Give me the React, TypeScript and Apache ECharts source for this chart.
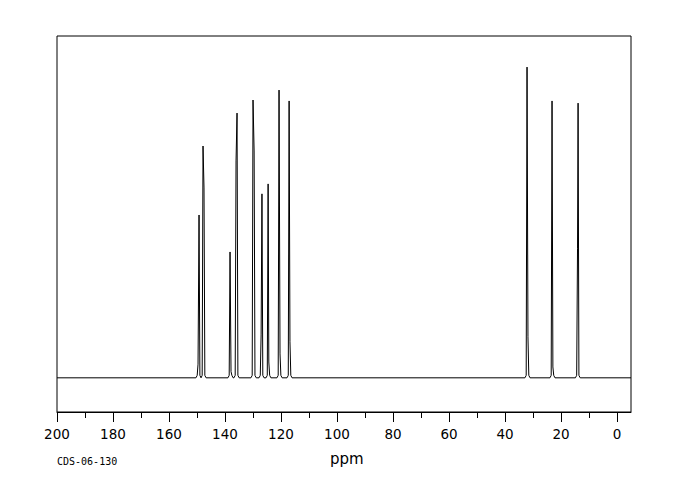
import React, { useEffect, useRef } from "react";
import * as echarts from "echarts";

// 13C peak list (ppm) and relative intensities (tallest = 100)
const shifts = [149.63, 149.27, 147.85, 147.5, 138.2, 137.85, 136.06, 135.7, 129.99, 129.6, 127.1, 126.8, 124.6, 124.35, 120.7, 120.35, 117.1, 116.8, 32.13, 31.8, 23.2, 22.9, 14.1, 13.9];
const intensities = [4.4, 52.4, 74.6, 61.1, 40.5, 2, 69.8, 85.2, 89.4, 73, 13.8, 59.2, 62.4, 5.1, 92.6, 7.7, 89.1, 11.6, 100, 13.2, 89.1, 3.5, 41.5, 88.4];
const majorTicks = [0, 20, 40, 60, 80, 100, 120, 140, 160, 180, 200];
const minorTicks = [10, 30, 50, 70, 90, 110, 130, 150, 170, 190];
const axisMin = -5;
const axisMax = 200;

function buildSpectrum(): number[][] {
  const pts = shifts.map((s, i) => [s, intensities[i]]).sort((a, b) => b[0] - a[0]);
  const groups: number[][][] = [];
  for (const p of pts) {
    const g = groups[groups.length - 1];
    if (g && g[g.length - 1][0] - p[0] < 0.6) g.push(p);
    else groups.push([p]);
  }
  const data: number[][] = [[axisMax, 0]];
  const foot = 0.75;
  const bump = 0.3;
  let lastZero = axisMax;
  groups.forEach((g, gi) => {
    const hi = g[0][0];
    const lo = g[g.length - 1][0];
    const leftZero = hi + foot;
    if (leftZero < lastZero) data.push([leftZero, 0]);
    data.push([hi + bump, 0.8]);
    g.forEach((p) => data.push(p));
    data.push([lo - bump, 0.8]);
    let rightZero = lo - foot;
    const next = groups[gi + 1];
    if (next) {
      const nextLeft = next[0][0] + foot;
      if (rightZero <= nextLeft) rightZero = (lo + next[0][0]) / 2;
    }
    data.push([rightZero, 0]);
    lastZero = rightZero;
  });
  data.push([axisMin, 0]);
  return data;
}

export default function App() {
  const ref = useRef<HTMLDivElement>(null);
  useEffect(() => {
    if (!ref.current) return;
    const chart = echarts.init(ref.current, undefined, { renderer: "svg" });
    chart.setOption({
      animation: false,
      backgroundColor: "#fff",
      grid: { left: 57, right: 49, top: 36, bottom: 88, show: true, borderColor: "#000", borderWidth: 1, backgroundColor: "transparent" },
      xAxis: [
        {
          type: "value",
          inverse: true,
          min: axisMin,
          max: axisMax,
          position: "bottom",
          axisLine: { show: true, onZero: false, lineStyle: { color: "#000", width: 1 } },
          axisTick: { show: true, customValues: majorTicks, length: 10, lineStyle: { color: "#000", width: 1 } },
          axisLabel: { show: true, customValues: majorTicks, color: "#000", fontSize: 13.5, fontFamily: "DejaVu Sans", margin: 15 },
          splitLine: { show: false },
        },
        {
          type: "value",
          inverse: true,
          min: axisMin,
          max: axisMax,
          position: "bottom",
          axisLine: { show: false, onZero: false },
          axisTick: { show: true, customValues: minorTicks, length: 6, lineStyle: { color: "#000", width: 1 } },
          axisLabel: { show: false },
          splitLine: { show: false },
        },
      ],
      yAxis: {
        type: "value",
        min: -11,
        max: 110,
        show: false,
        splitLine: { show: false },
      },
      series: [
        {
          type: "line",
          data: buildSpectrum(),
          symbol: "none",
          xAxisIndex: 0,
          lineStyle: { color: "#000", width: 1 },
          silent: true,
        },
      ],
      graphic: [
        { type: "text", left: 330, top: 451, style: { text: "ppm", fill: "#000", font: "15px 'DejaVu Sans'" } },
        { type: "text", left: 57, top: 456, style: { text: "CDS-06-130", fill: "#000", font: "10px 'DejaVu Sans Mono'" } },
      ],
    });
    return () => chart.dispose();
  }, []);
  return <div ref={ref} style={{ width: 680, height: 500, position: "absolute", left: 0, top: 0 }} />;
}
